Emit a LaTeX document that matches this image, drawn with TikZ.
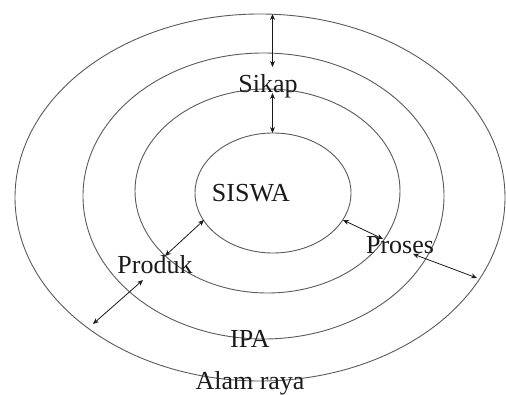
\documentclass[tikz,border=0pt]{standalone}
\usepackage{fontspec}
\setmainfont{Liberation Serif}
\usepackage{tikz}
\usetikzlibrary{arrows.meta}
\definecolor{RingGray}{HTML}{5A5A5A}
\definecolor{Ink}{HTML}{1A1A1A}
\tikzset{
  every picture/.style={line width=0.9pt},
  ring/.style={draw=RingGray},
  ringlabel/.style={font=\fontsize{26}{28}\selectfont, text=Ink, inner sep=0pt},
  linkarrow/.style={{Stealth[length=6pt,width=5pt]}-{Stealth[length=6pt,width=5pt]}, draw=Ink, line width=0.8pt}
}

\begin{document}
\begin{tikzpicture}[x=1pt,y=-1pt]
  \useasboundingbox (0,0) rectangle (506,395);

  % the four nested rings
  \draw[ring] (260,197.5) ellipse [x radius=245, y radius=183.5];
  \draw[ring] (263.5,196) ellipse [x radius=180.5, y radius=143];
  \draw[ring] (267.5,191) ellipse [x radius=132.5, y radius=102];
  \draw[ring] (273,193) ellipse [x radius=78, y radius=60];

  % labels
  \node[ringlabel] (siswa) at (251,193) {SISWA};
  \node[ringlabel] (sikap) at (268,86) {Sikap};
  \node[ringlabel] (produk) at (155,265) {Produk};
  \node[ringlabel] (proses) at (400,245) {Proses};
  \node[ringlabel] (ipa) at (250,339) {IPA};
  \node[ringlabel] (alam) at (250,383) {Alam raya};

  % arrow ends
  \coordinate (sikapA) at (272.5,14);
  \coordinate (sikapB) at (272.5,67);
  \coordinate (sikapC) at (272.5,93);
  \coordinate (sikapD) at (272.5,133);
  \coordinate (produkA) at (165,256);
  \coordinate (produkB) at (204,220);
  \coordinate (produkC) at (143,280);
  \coordinate (produkD) at (93,324);
  \coordinate (prosesA) at (343,220);
  \coordinate (prosesB) at (383,239);
  \coordinate (prosesC) at (413,254);
  \coordinate (prosesD) at (477,278);

  \draw[linkarrow] (sikapA) -- (sikapB);
  \draw[linkarrow] (sikapC) -- (sikapD);
  \draw[linkarrow] (produkA) -- (produkB);
  \draw[linkarrow] (produkC) -- (produkD);
  \draw[linkarrow] (prosesA) -- (prosesB);
  \draw[linkarrow] (prosesC) -- (prosesD);
\end{tikzpicture}
\end{document}
